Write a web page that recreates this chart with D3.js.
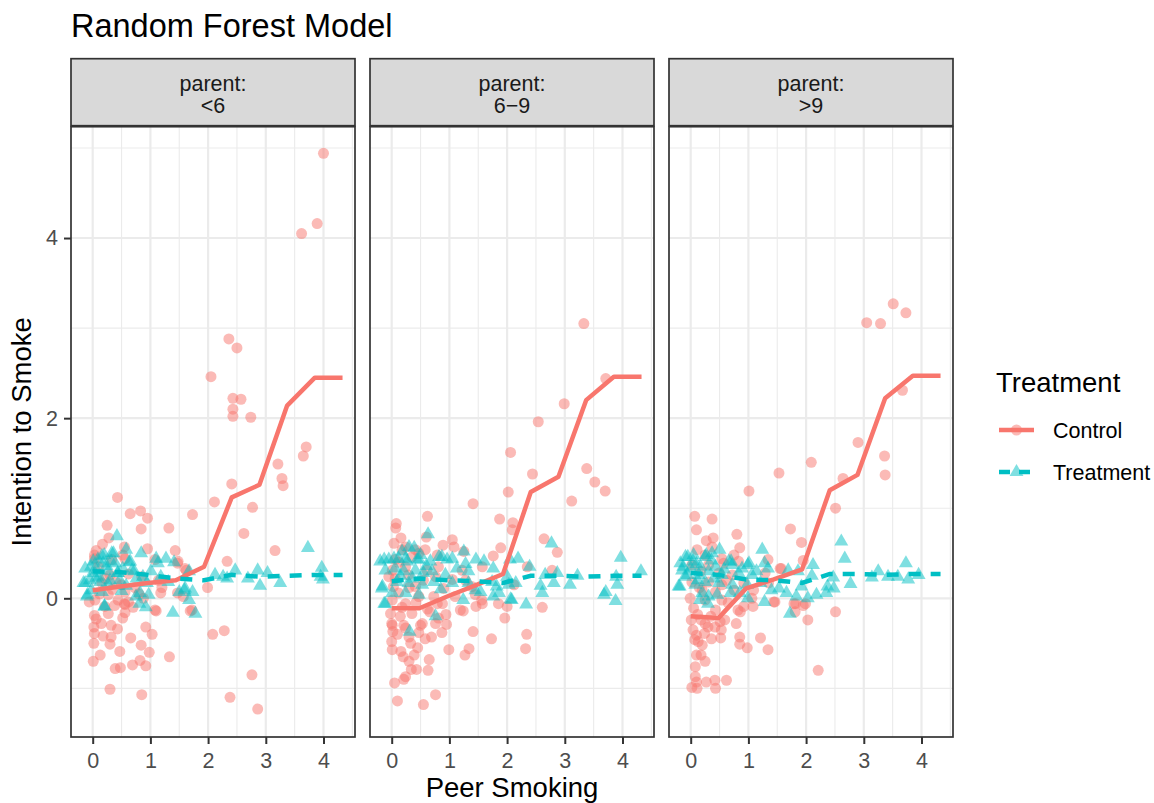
<!DOCTYPE html>
<html>
<head>
<meta charset="utf-8">
<script src="https://cdn.jsdelivr.net/npm/d3@7"></script>
<style>
  body { margin: 0; background: #fff; }
  text { font-family: "Liberation Sans", Arial, sans-serif; }
</style>
</head>
<body>
<svg id="chart" width="1154" height="803"></svg>
<script>
// ---- data ----
const panel_labels = ["<6", "6\u22129", ">9"];
const series_names = ["Control", "Treatment"];
const series_colors = ["#F8766D", "#00BFC4"];
const x_ticks = [0, 1, 2, 3, 4];
const y_ticks = [0, 2, 4];

// model prediction grid (peer smoking) and predicted intention per panel
const line_x = [0, 0.48, 0.96, 1.44, 1.93, 2.41, 2.89, 3.37, 3.85, 4.33];
const control_line_lt6 = [0.09, 0.13, 0.17, 0.20, 0.35, 1.12, 1.26, 2.14, 2.45, 2.45];
const control_line_69  = [-0.11, -0.11, 0.02, 0.14, 0.27, 1.18, 1.35, 2.20, 2.46, 2.46];
const control_line_gt9 = [-0.20, -0.22, 0.11, 0.21, 0.32, 1.20, 1.37, 2.22, 2.47, 2.47];
const treat_line_lt6 = [0.30, 0.29, 0.26, 0.22, 0.20, 0.26, 0.24, 0.25, 0.26, 0.26];
const treat_line_69  = [0.19, 0.22, 0.20, 0.19, 0.17, 0.25, 0.25, 0.24, 0.25, 0.25];
const treat_line_gt9 = [0.28, 0.26, 0.21, 0.20, 0.17, 0.27, 0.27, 0.26, 0.27, 0.27];

// observed points [peer smoking, intention]
const control_pts_lt6 = [[4.00,4.94],[3.89,4.16],[3.62,4.05],[2.36,2.88],[2.50,2.78],[2.05,2.46],[2.43,2.22],[2.57,2.21],[2.43,2.10],[2.43,2.02],[2.74,2.01],[3.70,1.68],[3.65,1.58],[3.21,1.49],[3.28,1.33],[3.30,1.25],[2.41,1.27],[2.11,1.07],[2.77,1.01],[2.62,0.72],[3.16,0.53],[2.33,0.41],[1.99,0.12],[2.08,-0.40],[2.28,-0.36],[2.76,-0.85],[2.38,-1.10],[2.86,-1.23],
  [0.43,1.12],[0.65,0.94],[0.83,0.97],[0.95,0.89],[1.73,0.93],[0.25,0.81],[0.84,0.77],[1.32,0.78],[0.28,0.67],[0.17,0.60],[0.55,0.57],[0.95,0.55],[1.43,0.53],[0.06,0.53],[0.03,0.48],[0.52,0.48],[1.47,0.39],[1.62,0.31],[1.18,0.06],[1.47,0.06],[-0.06,-0.04],[0.55,-0.06],[0.56,-0.16],[1.10,-0.14],[1.69,-0.14],[0.03,-0.19],[0.06,-0.23],[0.02,-0.32],[0.03,-0.39],[0.18,-0.42],[0.32,-0.30],[0.43,-0.34],[0.32,-0.43],[0.30,-0.51],[0.02,-0.50],[0.66,-0.44],[0.92,-0.32],[1.03,-0.40],[0.84,-0.52],[0.47,-0.59],[0.13,-0.63],[0.01,-0.70],[0.98,-0.60],[1.33,-0.65],[0.82,-0.69],[0.69,-0.74],[0.92,-0.75],[0.48,-0.77],[0.39,-0.78],[0.30,-1.01],[0.85,-1.07],
  [0.03,0.44],[0.56,0.44],[0.33,0.43],[1.08,0.43],[1.48,0.41],[1.60,0.33],[0.30,0.26],[0.85,0.24],[1.14,0.20],[0.16,0.17],[0.50,0.15],[0.73,0.12],[0.34,0.10],[1.20,0.12],[0.27,0.04],[0.56,0.07],[0.04,-0.02],[0.44,-0.02],[0.62,-0.04],[0.88,0.00],[1.57,0.02],[0.21,-0.09],[0.56,-0.07],[1.08,-0.13],[1.72,-0.13],[0.27,-0.17],
  [0.10,0.35],[0.22,0.22],[0.40,0.18],[0.62,0.27],[0.12,0.05],[0.38,-0.08],[0.70,-0.10],[0.15,-0.28],[0.52,-0.22],[0.80,0.05]];
const treat_pts_lt6 = [[0.42,0.69],[0.84,0.50],[0.58,0.54],[0.36,0.50],[0.20,0.48],[-0.03,0.35],[0.09,0.43],[0.32,0.41],[0.63,0.40],[1.10,0.44],[1.27,0.44],[1.13,0.39],[1.41,0.40],[-0.13,0.17],[0.00,0.28],[0.11,0.24],[0.43,0.28],[0.72,0.30],[0.87,0.24],[1.01,0.30],[1.18,0.24],[1.67,0.30],[1.73,0.07],[2.12,0.26],[2.33,0.22],[2.47,0.31],[2.86,0.31],[3.03,0.28],[2.69,0.22],[2.90,0.14],[3.25,0.17],[3.73,0.56],[3.97,0.34],[3.99,0.21],[3.95,0.24],[-0.09,0.04],[0.20,-0.09],[0.81,-0.06],[0.92,-0.10],[0.97,0.04],[0.75,0.02],[1.39,-0.16],[1.67,-0.02],[1.78,-0.17],[1.50,0.07],[1.59,0.09],
  [0.33,0.50],[0.16,0.47],[0.01,0.41],[0.18,0.39],[0.39,0.39],[0.65,0.41],[-0.13,0.33],[0.07,0.31],[0.27,0.30],[0.44,0.28],[0.68,0.31],[-0.16,0.17],[-0.05,0.20],[0.13,0.18],[0.27,0.15],[0.47,0.20],[0.76,0.22],[0.94,0.17],[1.31,0.18],[-0.02,0.09],[0.16,0.07],[0.50,0.08],[0.82,0.06],[1.60,0.11],[-0.10,0.02],[0.21,-0.09],[2.26,0.24],
  [0.05,0.22],[0.24,0.36],[0.52,0.33],[0.30,0.20],[0.58,0.14]];

const control_pts_69 = [[3.33,3.05],[3.71,2.44],[2.99,2.16],[2.54,1.96],[2.06,1.62],[2.44,1.38],[3.38,1.44],[3.52,1.29],[3.70,1.19],[3.12,1.08],[2.02,1.18],[1.41,1.05],[0.62,0.91],[1.87,0.88],[2.10,0.84],[2.09,0.76],[0.08,0.83],[0.07,0.78],[0.16,0.67],[0.04,0.61],[0.60,0.68],[1.05,0.65],[1.08,0.57],[0.89,0.59],[2.64,0.66],[2.87,0.51],[1.89,0.56],[1.76,0.47],[1.25,0.52],[0.18,0.54],[0.47,0.50],[0.79,0.48],[1.57,0.35],[2.35,0.35],[2.78,0.31],[2.12,0.15],[1.28,0.20],[-0.05,0.24],[2.00,-0.09],[2.61,-0.10],[1.96,-0.22],[1.57,-0.06],[1.46,-0.09],[1.24,-0.14],[0.94,-0.18],[0.88,-0.06],[0.66,-0.15],[0.76,-0.28],[0.95,-0.29],[0.87,-0.38],[0.50,-0.30],[0.47,-0.38],[0.69,-0.43],[1.41,-0.37],[1.73,-0.45],[2.34,-0.40],[2.32,-0.56],[0.99,-0.57],[1.34,-0.56],[1.27,-0.63],[0.65,-0.68],[0.63,-0.80],[-0.02,-0.17],[0.00,-0.28],[0.02,-0.37],[0.00,-0.48],[0.01,-0.57],[0.16,-0.59],[0.30,-0.43],[0.24,-0.33],[0.33,-0.50],[0.39,-0.63],[0.30,-0.70],[0.34,-0.79],[0.43,-0.79],[0.24,-0.87],[0.21,-0.90],[0.05,-0.94],[0.10,-1.14],[0.55,-1.18],[0.76,-1.07],
  [0.24,0.57],[0.41,0.54],[0.58,0.54],[0.06,0.43],[0.35,0.46],[0.01,0.31],[0.24,0.35],[0.61,0.31],[0.81,0.35],[0.06,0.22],[0.29,0.26],[0.76,0.24],[1.05,0.21],[1.22,0.31],[0.03,0.13],[0.41,0.13],[0.90,0.11],[1.39,0.13],[0.12,0.06],[0.47,0.02],[0.73,0.02],[1.10,0.02],[1.45,0.04],[0.01,-0.02],[0.24,-0.06],[0.79,-0.06],[1.56,-0.02],[1.85,-0.06],[0.35,-0.17],[0.81,-0.22],[1.19,-0.13],[0.15,-0.20],[0.53,-0.28],[0.01,-0.30],[0.21,-0.30],
  [0.12,0.40],[0.30,0.12],[0.55,0.20],[0.18,-0.10],[0.42,-0.05],[0.62,-0.12],[0.10,-0.40],[0.45,-0.55],[0.20,-0.65],[0.58,-0.45]];
const treat_pts_69 = [[0.63,0.71],[0.30,0.57],[0.39,0.56],[1.25,0.52],[2.77,0.61],[3.97,0.45],[4.32,0.30],[-0.13,0.43],[0.04,0.44],[0.24,0.44],[0.47,0.43],[0.82,0.46],[0.96,0.43],[1.28,0.38],[1.46,0.43],[1.60,0.41],[1.76,0.33],[2.05,0.43],[2.19,0.44],[2.39,0.35],[2.66,0.26],[2.87,0.28],[3.22,0.25],[3.09,0.15],[2.81,0.17],[2.58,0.14],[2.61,0.06],[3.91,0.15],[3.89,0.24],[3.71,0.07],[3.68,0.04],[3.88,-0.03],[2.33,-0.07],[2.06,-0.01],[-0.16,0.13],[-0.13,-0.06],[1.24,-0.02],[1.76,0.02],[1.86,0.06],[1.54,0.07],[0.76,-0.20],[0.31,-0.37],[2.15,0.17],[2.00,0.24],
  [-0.20,0.41],[-0.05,0.43],[0.12,0.44],[0.27,0.41],[0.44,0.43],[0.67,0.41],[0.87,0.46],[1.05,0.44],[-0.11,0.31],[0.06,0.33],[0.21,0.30],[0.41,0.31],[0.55,0.28],[0.70,0.30],[0.93,0.26],[1.13,0.33],[1.33,0.30],[-0.17,0.11],[0.09,0.18],[0.29,0.17],[0.53,0.15],[0.73,0.18],[1.05,0.17],[1.33,0.17],[1.74,0.18],[1.82,0.13],[2.03,0.15],[0.01,0.06],[0.24,0.06],[0.47,0.04],[-0.11,-0.06],[1.45,0.09],[2.08,-0.02],
  [0.15,0.25],[0.36,0.22],[0.60,0.36],[0.18,0.52],[0.50,0.48],[0.85,0.10]];

const control_pts_gt9 = [[3.05,3.06],[3.29,3.05],[3.51,3.27],[3.73,3.17],[3.67,2.31],[2.90,1.73],[3.36,1.58],[3.37,1.37],[2.09,1.51],[1.53,1.39],[1.01,1.19],[2.64,1.33],[2.51,1.00],[1.73,0.77],[1.92,0.62],[0.07,0.91],[0.37,0.88],[0.10,0.76],[0.80,0.71],[0.27,0.64],[0.39,0.67],[0.11,0.54],[0.37,0.57],[0.85,0.56],[0.75,0.48],[1.34,0.43],[1.95,0.42],[1.57,0.33],[1.46,-0.04],[1.82,-0.06],[1.95,-0.08],[1.81,-0.15],[2.51,-0.15],[2.03,-0.24],[2.21,-0.80],[1.34,-0.57],[1.21,-0.44],[0.98,-0.55],[0.85,-0.43],[0.85,-0.51],[0.79,-0.28],[0.82,-0.13],[1.08,-0.09],[0.59,-0.24],[0.52,-0.44],[0.53,-0.35],[0.30,-0.32],[0.10,-0.41],[0.13,-0.48],[0.10,-0.63],[0.18,-0.63],[0.25,-0.70],[0.08,-0.76],[0.08,-0.87],[0.10,-0.93],[0.27,-0.93],[0.42,-0.91],[0.43,-1.00],[0.62,-0.91],[0.02,-0.99],[0.11,-1.00],[0.01,-0.24],[0.04,-0.35],[0.07,-0.46],[0.18,-0.24],[0.24,-0.39],[0.42,-0.32],
  [0.25,0.48],[0.54,0.44],[0.02,0.37],[0.31,0.37],[0.57,0.39],[0.83,0.41],[0.17,0.30],[0.49,0.28],[0.72,0.26],[1.29,0.28],[1.55,0.33],[0.02,0.18],[0.31,0.18],[0.54,0.15],[0.92,0.17],[1.35,0.17],[0.20,0.09],[0.43,0.07],[0.75,0.09],[1.09,0.09],[-0.01,0.00],[0.25,-0.02],[0.54,-0.02],[1.06,0.00],[1.44,-0.04],[1.79,-0.06],[1.99,-0.06],[0.05,-0.11],[0.43,-0.13],[0.92,-0.09],[0.86,-0.15],[0.25,-0.28],[0.51,-0.26],
  [0.12,-0.18],[0.35,-0.20],[0.65,-0.05],[0.20,-0.52],[0.36,-0.45],[0.15,0.12],[0.62,0.20]];
const treat_pts_gt9 = [[2.61,0.63],[2.67,0.44],[1.24,0.54],[0.50,0.54],[0.27,0.48],[-0.05,0.46],[-0.13,0.35],[0.04,0.41],[0.70,0.41],[0.99,0.37],[1.28,0.39],[1.14,0.30],[1.34,0.33],[1.69,0.31],[1.86,0.30],[2.12,0.37],[2.10,0.25],[2.47,0.23],[2.77,0.16],[3.14,0.23],[3.25,0.30],[3.42,0.24],[3.59,0.24],[3.73,0.39],[3.77,0.21],[3.95,0.26],[-0.19,0.13],[-0.10,0.24],[1.28,-0.04],[1.40,0.09],[1.66,0.06],[1.83,0.02],[1.92,0.13],[2.03,0.00],[2.18,0.04],[2.35,0.06],[2.37,0.13],[2.48,0.11],[1.72,-0.17],[0.99,0.00],[0.85,0.06],[0.16,-0.02],[0.30,-0.06],
  [-0.09,0.46],[0.05,0.48],[0.25,0.46],[0.37,0.50],[0.66,0.41],[-0.18,0.39],[-0.15,0.31],[0.00,0.33],[0.17,0.35],[0.43,0.35],[0.72,0.37],[0.89,0.33],[1.01,0.39],[-0.06,0.26],[0.14,0.26],[0.31,0.30],[0.54,0.26],[0.83,0.28],[1.06,0.26],[-0.21,0.13],[0.08,0.15],[0.25,0.18],[0.49,0.17],[0.72,0.15],[0.98,0.15],[1.21,0.17],[1.53,0.11],[0.20,0.06],[0.46,0.04],[0.69,0.06],[0.31,0.02],
  [0.10,0.38],[0.36,0.42],[0.58,0.32],[0.12,0.20],[0.40,0.22]];

// ---- layout ----
const panel_left = [71, 370, 669];
const panel_width = 284;
const strip_top = 58.7;
const strip_bottom = 125.7;
const panel_top = 126.7;
const panel_bottom = 737;
const base_font = 21.5;
const title_font = 27.5;

const panels = panel_labels.map((label, i) => ({
    label: label,
    control_pts: [control_pts_lt6, control_pts_69, control_pts_gt9][i],
    treat_pts: [treat_pts_lt6, treat_pts_69, treat_pts_gt9][i],
    control_line: [control_line_lt6, control_line_69, control_line_gt9][i],
    treat_line: [treat_line_lt6, treat_line_69, treat_line_gt9][i]
}));

const svg = d3.select("#chart");

const yScale = d3.scaleLinear()
                 .domain([-1.54, 5.236])
                 .range([panel_bottom, panel_top]);

const point_r = 5.5;
const triangle = d3.symbol().type(d3.symbolTriangle).size(84);

const draw_panel = (p, i) => {
    const left = panel_left[i];
    const xScale = d3.scaleLinear()
                     .domain([-0.376, 4.546])
                     .range([left, left + panel_width]);
    const g = svg.append("g");

    // background + grid
    g.append("rect")
     .attr("x", left).attr("y", panel_top)
     .attr("width", panel_width).attr("height", panel_bottom - panel_top)
     .attr("fill", "#fff");

    const minor_x = x_ticks.map(t => t + 0.5);
    const minor_y = [-1, 1, 3, 5];
    g.selectAll(".minor-x").data(minor_x).enter().append("line")
     .attr("x1", d => xScale(d)).attr("x2", d => xScale(d))
     .attr("y1", panel_top).attr("y2", panel_bottom)
     .attr("stroke", "#ebebeb").attr("stroke-width", 1.1);
    g.selectAll(".minor-y").data(minor_y).enter().append("line")
     .attr("x1", left).attr("x2", left + panel_width)
     .attr("y1", d => yScale(d)).attr("y2", d => yScale(d))
     .attr("stroke", "#ebebeb").attr("stroke-width", 1.1);
    g.selectAll(".major-x").data(x_ticks).enter().append("line")
     .attr("x1", d => xScale(d)).attr("x2", d => xScale(d))
     .attr("y1", panel_top).attr("y2", panel_bottom)
     .attr("stroke", "#ebebeb").attr("stroke-width", 2.2);
    g.selectAll(".major-y").data(y_ticks).enter().append("line")
     .attr("x1", left).attr("x2", left + panel_width)
     .attr("y1", d => yScale(d)).attr("y2", d => yScale(d))
     .attr("stroke", "#ebebeb").attr("stroke-width", 2.2);

    // points
    g.selectAll(".ctrl").data(p.control_pts).enter().append("circle")
     .attr("cx", d => xScale(d[0])).attr("cy", d => yScale(d[1]))
     .attr("r", point_r)
     .attr("fill", series_colors[0]).attr("fill-opacity", 0.5);
    g.selectAll(".trt").data(p.treat_pts).enter().append("path")
     .attr("d", triangle)
     .attr("transform", d => `translate(${xScale(d[0])},${yScale(d[1])})`)
     .attr("fill", series_colors[1]).attr("fill-opacity", 0.5);

    // model lines
    const line = d3.line()
                   .x((d, j) => xScale(line_x[j]))
                   .y(d => yScale(d));
    g.append("path").datum(p.control_line)
     .attr("d", line).attr("fill", "none")
     .attr("stroke", series_colors[0]).attr("stroke-width", 4.5)
     .attr("stroke-linejoin", "round");
    g.append("path").datum(p.treat_line)
     .attr("d", line).attr("fill", "none")
     .attr("stroke", series_colors[1]).attr("stroke-width", 4.5)
     .attr("stroke-dasharray", "12,10");

    // border
    g.append("rect")
     .attr("x", left).attr("y", panel_top)
     .attr("width", panel_width).attr("height", panel_bottom - panel_top)
     .attr("fill", "none").attr("stroke", "#333").attr("stroke-width", 1.7);

    // strip
    g.append("rect")
     .attr("x", left).attr("y", strip_top)
     .attr("width", panel_width).attr("height", strip_bottom - strip_top)
     .attr("fill", "#d9d9d9").attr("stroke", "#333").attr("stroke-width", 1.7);
    const strip_text = g.append("text")
     .attr("text-anchor", "middle")
     .attr("font-size", base_font).attr("fill", "#1a1a1a");
    strip_text.append("tspan").attr("x", left + panel_width / 2).attr("y", 90.5).text("parent:");
    strip_text.append("tspan").attr("x", left + panel_width / 2).attr("y", 113).text(p.label);

    // x axis
    const xAxis = d3.axisBottom(xScale).tickValues(x_ticks).tickFormat(d3.format("d"))
                    .tickSize(7).tickPadding(9);
    const ax = g.append("g")
                .attr("transform", `translate(0, ${panel_bottom})`)
                .call(xAxis);
    ax.select(".domain").remove();
    ax.selectAll("line").attr("stroke", "#333").attr("stroke-width", 2);
    ax.selectAll("text").attr("font-size", base_font).attr("fill", "#4d4d4d")
      .attr("font-family", "Liberation Sans, Arial, sans-serif");

    if (i === 0) {
        const yAxis = d3.axisLeft(yScale).tickValues(y_ticks).tickFormat(d3.format("d"))
                        .tickSize(7).tickPadding(6);
        const ay = g.append("g")
                    .attr("transform", `translate(${left}, 0)`)
                    .call(yAxis);
        ay.select(".domain").remove();
        ay.selectAll("line").attr("stroke", "#333").attr("stroke-width", 2);
        ay.selectAll("text").attr("font-size", base_font).attr("fill", "#4d4d4d")
          .attr("font-family", "Liberation Sans, Arial, sans-serif");
    }
};

panels.forEach(draw_panel);

// titles
svg.append("text")
   .attr("x", 71).attr("y", 37)
   .attr("font-size", 32.5).attr("fill", "#000")
   .text("Random Forest Model");

svg.append("text")
   .attr("x", (panel_left[0] + panel_left[2] + panel_width) / 2).attr("y", 797)
   .attr("text-anchor", "middle")
   .attr("font-size", title_font).attr("fill", "#000")
   .text("Peer Smoking");

svg.append("text")
   .attr("transform", `translate(31, ${(panel_top + panel_bottom) / 2}) rotate(-90)`)
   .attr("text-anchor", "middle")
   .attr("font-size", title_font).attr("fill", "#000")
   .text("Intention to Smoke");

// legend
const legend = svg.append("g");
legend.append("text")
      .attr("x", 996).attr("y", 392)
      .attr("font-size", title_font).attr("fill", "#000")
      .text("Treatment");

const key_y = [430, 472];
series_names.forEach((name, k) => {
    const ky = key_y[k];
    legend.append("line")
          .attr("x1", 999).attr("x2", 1034).attr("y1", ky).attr("y2", ky)
          .attr("stroke", series_colors[k]).attr("stroke-width", 4.5)
          .attr("stroke-dasharray", k === 1 ? "11,9" : null);
    if (k === 0) {
        legend.append("circle")
              .attr("cx", 1016.5).attr("cy", ky).attr("r", point_r)
              .attr("fill", series_colors[0]).attr("fill-opacity", 0.5);
    } else {
        legend.append("path")
              .attr("d", triangle)
              .attr("transform", `translate(1016.5, ${ky})`)
              .attr("fill", series_colors[1]).attr("fill-opacity", 0.5);
    }
    legend.append("text")
          .attr("x", 1053).attr("y", ky).attr("dy", "0.35em")
          .attr("font-size", base_font).attr("fill", "#000")
          .text(name);
});
</script>
</body>
</html>
